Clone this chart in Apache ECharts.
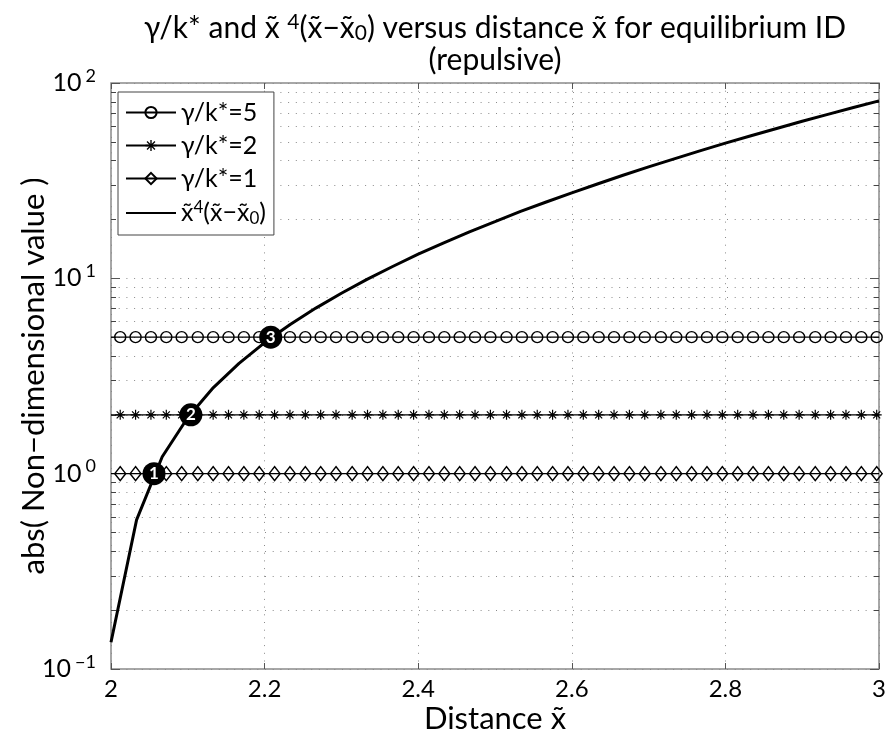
<!DOCTYPE html>
<html>
<head>
<meta charset="utf-8">
<script src="https://cdn.jsdelivr.net/npm/echarts@6/dist/echarts.min.js"></script>
<style>
  html, body { margin: 0; padding: 0; background: #fff; }
  #chart { width: 888px; height: 740px; }
</style>
</head>
<body>
<div id="chart"></div>
<script>
// Curve x̃^4(x̃−x̃0) sampled along the distance axis
const curveX = [2.0, 2.0333, 2.0667, 2.1, 2.1333, 2.1667, 2.2, 2.2333, 2.2667, 2.3,
  2.3333, 2.3667, 2.4, 2.4333, 2.4667, 2.5, 2.5333, 2.5667, 2.6, 2.6333,
  2.6667, 2.7, 2.7333, 2.7667, 2.8, 2.8333, 2.8667, 2.9, 2.9333, 2.9667, 3.0];
const curveY = [0.137, 0.58, 1.22, 1.94, 2.76, 3.67, 4.69, 5.80, 7.04, 8.39,
  9.88, 11.5, 13.3, 15.2, 17.3, 19.5, 22.0, 24.6, 27.4, 30.4,
  33.7, 37.2, 40.9, 44.9, 49.2, 53.7, 58.5, 63.7, 69.1, 74.9, 81.0];

// Marker positions shared by the three constant γ/k* lines
const markX = [2.012, 2.032, 2.052, 2.072, 2.092, 2.113, 2.133, 2.153, 2.173, 2.193,
  2.213, 2.233, 2.253, 2.273, 2.293, 2.314, 2.334, 2.354, 2.374, 2.394,
  2.414, 2.434, 2.454, 2.474, 2.494, 2.515, 2.535, 2.555, 2.575, 2.595,
  2.615, 2.635, 2.655, 2.675, 2.695, 2.716, 2.736, 2.756, 2.776, 2.796,
  2.816, 2.836, 2.856, 2.876, 2.896, 2.917, 2.937, 2.957, 2.977, 2.997];
const gammaLevels = [5, 2, 1];
const gammaNames = ['γ/k*=5', 'γ/k*=2', 'γ/k*=1'];

// Numbered crossing points of the curve with each level
const crossX = [2.056, 2.104, 2.208];
const crossY = [1, 2, 5];
const crossLabels = ['1', '2', '3'];

// Axis ranges and ticks
const xMin = 2, xMax = 3, xStep = 0.2;
const yMin = 0.1, yMax = 100;
const yMinor = [0.2, 0.3, 0.4, 0.5, 0.6, 0.7, 0.8, 0.9,
  2, 3, 4, 5, 6, 7, 8, 9, 20, 30, 40, 50, 60, 70, 80, 90];

const FONT = 'Lato';

const asterisk = 'path://M-0.6,-5L0.6,-5L0.6,5L-0.6,5Z' +
  'M-5,-0.6L5,-0.6L5,0.6L-5,0.6Z' +
  'M-3.96,-3.12L-3.12,-3.96L3.96,3.12L3.12,3.96Z' +
  'M3.12,-3.96L3.96,-3.12L-3.12,3.96L-3.96,3.12Z';

const markerStyles = [
  { symbol: 'circle', size: 11, color: 'transparent', border: 1.4 },
  { symbol: asterisk, size: 10, color: '#000', border: 0 },
  { symbol: 'diamond', size: [11, 14], color: 'transparent', border: 1.4 }
];

function levelSeries(i) {
  const lvl = gammaLevels[i];
  const st = markerStyles[i];
  const data = [{ value: [xMin, lvl], symbol: 'none' }];
  markX.forEach(x => data.push([x, lvl]));
  data.push({ value: [xMax, lvl], symbol: 'none' });
  return {
    name: gammaNames[i],
    type: 'line',
    data: data,
    symbol: st.symbol,
    symbolSize: st.size,
    showAllSymbol: true,
    silent: true,
    z: 3,
    lineStyle: { color: '#000', width: 1.4 },
    itemStyle: { color: st.color, borderColor: '#000', borderWidth: st.border }
  };
}

const dotted = { color: '#8a8a8a', width: 1, type: [1, 6.7] };
const tickStyle = { color: '#444', width: 1, type: 'solid' };

// dotted minor grid lines and short minor ticks at both edges
const minorMarks = [];
yMinor.forEach(v => {
  minorMarks.push([{ coord: [xMin, v], lineStyle: dotted }, { coord: [xMax, v] }]);
});
yMinor.forEach(v => {
  minorMarks.push([{ coord: [xMin, v], lineStyle: tickStyle }, { coord: [xMin + 0.0065, v] }]);
  minorMarks.push([{ coord: [xMax - 0.0065, v], lineStyle: tickStyle }, { coord: [xMax, v] }]);
});

function expLabel(v) {
  const e = Math.round(Math.log10(v));
  return '{b|10}{e|' + (e < 0 ? '\u2212' + (-e) : e) + '}';
}

const titleRich = {
  t: { fontFamily: FONT, fontSize: 30, color: '#000', lineHeight: 32 },
  sup: { fontFamily: FONT, fontSize: 21, color: '#000', verticalAlign: 'top', lineHeight: 20 },
  sub: { fontFamily: FONT, fontSize: 21, color: '#000', verticalAlign: 'bottom', lineHeight: 14 }
};
const titleStyle = { fontFamily: FONT, fontSize: 30, fontWeight: 'normal', color: '#000', rich: titleRich };

// titles are centred over the plot area (grid spans x 111..879)
const plotCenterX = 495;

const option = {
  animation: false,
  backgroundColor: '#fff',
  textStyle: { fontFamily: FONT },
  title: [{
    text: '{t|γ/k* and x\u0303 }{sup|4}{t|(x\u0303\u2212x\u0303}{sub|0}{t|) versus distance x\u0303 for equilibrium ID}',
    left: plotCenterX,
    textAlign: 'center',
    top: 12,
    padding: 0,
    textStyle: titleStyle
  }, {
    text: '{t|(repulsive)}',
    left: plotCenterX,
    textAlign: 'center',
    top: 44,
    padding: 0,
    textStyle: titleStyle
  }],
  legend: {
    orient: 'vertical',
    left: 118,
    top: 92,
    padding: [8, 8, 8, 7],
    itemGap: 8,
    itemWidth: 50,
    itemHeight: 14,
    backgroundColor: '#fff',
    borderColor: '#444',
    borderWidth: 1,
    borderRadius: 0,
    data: [gammaNames[0], gammaNames[1], gammaNames[2],
      { name: 'curve', itemStyle: { opacity: 0 } }],
    formatter: function (name) {
      if (name === 'curve') {
        return '{t|x\u0303}{sup|4}{t|(x\u0303\u2212x\u0303}{sub|0}{t|)}';
      }
      return '{t|' + name + '}';
    },
    textStyle: {
      fontFamily: FONT,
      fontSize: 25,
      color: '#000',
      rich: {
        t: { fontFamily: FONT, fontSize: 25, color: '#000', lineHeight: 28 },
        sup: { fontFamily: FONT, fontSize: 17, color: '#000', verticalAlign: 'top', lineHeight: 16 },
        sub: { fontFamily: FONT, fontSize: 17, color: '#000', verticalAlign: 'bottom', lineHeight: 12 }
      }
    }
  },
  grid: {
    left: 111, right: 9, top: 83, bottom: 71,
    outerBoundsMode: 'none',
    containLabel: false,
    show: true, borderColor: '#8a8a8a', borderWidth: 1.5, backgroundColor: '#fff'
  },
  xAxis: [{
    type: 'value', min: xMin, max: xMax, interval: xStep,
    name: 'Distance x\u0303', nameLocation: 'middle', nameGap: 34,
    nameMoveOverlap: false,
    nameTextStyle: { fontFamily: FONT, fontSize: 31, color: '#000' },
    axisLine: { show: false },
    axisTick: { show: true, inside: true, length: 6, lineStyle: { color: '#555' } },
    axisLabel: { fontFamily: FONT, fontSize: 24, color: '#000', margin: 8,
      formatter: v => String(Math.round(v * 10) / 10) },
    splitLine: { show: true, lineStyle: dotted }
  }, {
    type: 'value', min: xMin, max: xMax, interval: xStep, position: 'top',
    axisLine: { show: false },
    axisTick: { show: true, inside: true, length: 6, lineStyle: { color: '#555' } },
    axisLabel: { show: false },
    splitLine: { show: false }
  }],
  yAxis: [{
    type: 'log', logBase: 10, min: yMin, max: yMax,
    name: 'abs( Non\u2212dimensional value )', nameLocation: 'middle', nameGap: 62, nameRotate: 90,
    nameMoveOverlap: false,
    nameTextStyle: { fontFamily: FONT, fontSize: 31, color: '#000' },
    axisLine: { show: false },
    axisTick: { show: true, inside: true, length: 9, lineStyle: { color: '#555' } },
    axisLabel: {
      margin: 15,
      formatter: expLabel,
      rich: {
        b: { fontFamily: FONT, fontSize: 25, color: '#000', lineHeight: 32 },
        e: { fontFamily: FONT, fontSize: 18, color: '#000', verticalAlign: 'top', lineHeight: 18, padding: [0, 0, 0, 4] }
      }
    },
    splitLine: { show: true, lineStyle: dotted }
  }, {
    type: 'log', logBase: 10, min: yMin, max: yMax, position: 'right',
    axisLine: { show: false },
    axisTick: { show: true, inside: true, length: 9, lineStyle: { color: '#555' } },
    axisLabel: { show: false },
    splitLine: { show: false }
  }],
  series: [
    levelSeries(0),
    levelSeries(1),
    levelSeries(2),
    {
      name: 'curve',
      type: 'line',
      data: curveX.map((x, i) => [x, curveY[i]]),
      symbol: 'none',
      z: 4,
      lineStyle: { color: '#000', width: 3 },
      itemStyle: { color: '#000' },
      markLine: {
        silent: true,
        symbol: 'none',
        label: { show: false },
        animation: false,
        z: 1,
        data: minorMarks
      }
    },
    {
      name: 'crossings',
      type: 'scatter',
      data: crossX.map((x, i) => ({ value: [x, crossY[i]], label: { formatter: crossLabels[i] } })),
      symbol: 'circle',
      symbolSize: 23,
      z: 6,
      silent: true,
      itemStyle: { color: '#000', opacity: 1 },
      label: {
        show: true, position: 'inside', color: '#fff',
        fontFamily: FONT, fontWeight: 'bold', fontSize: 17
      }
    }
  ]
};

const chart = echarts.init(document.getElementById('chart'), null, { renderer: 'canvas' });
chart.setOption(option);
</script>
</body>
</html>
